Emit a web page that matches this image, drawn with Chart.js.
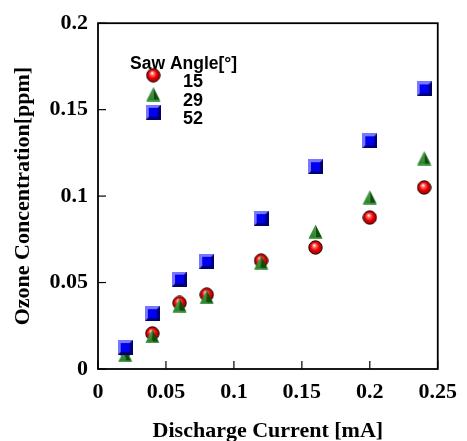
<!DOCTYPE html>
<html>
<head>
<meta charset="utf-8">
<script src="https://cdn.jsdelivr.net/npm/chart.js@4.4.1/dist/chart.umd.min.js"></script>
<style>
  body { margin: 0; background: #fff; }
  #wrap { width: 467px; height: 441px; }
</style>
</head>
<body>
<div id="wrap"><canvas id="ozoneChart" width="467" height="441"></canvas></div>
<script>
// discharge current [mA]
const currents = [0.02, 0.04, 0.06, 0.08, 0.12, 0.16, 0.2, 0.24];
// ozone concentration [ppm] per saw angle
const angle15 = [0.011, 0.0206, 0.0382, 0.043, 0.0627, 0.0703, 0.0876, 0.105];
const angle29 = [0.0082, 0.0191, 0.0369, 0.0417, 0.0617, 0.0795, 0.0994, 0.122];
const angle52 = [0.0124, 0.032, 0.052, 0.0623, 0.087, 0.117, 0.132, 0.162];
const seriesNames = ['15', '29', '52'];

const xTickValues = [0, 0.05, 0.1, 0.15, 0.2, 0.25];
const xTickLabels = ['0', '0.05', '0.1', '0.15', '0.2', '0.25'];
const yTickValues = [0, 0.05, 0.1, 0.15, 0.2];
const yTickLabels = ['0', '0.05', '0.1', '0.15', '0.2'];

const serif = '"Liberation Serif", "Times New Roman", serif';
const sans = '"Liberation Sans", Arial, sans-serif';

function makeCircle() {
    const c = document.createElement('canvas');
    c.width = 15; c.height = 15;
    const g = c.getContext('2d');
    const grad = g.createRadialGradient(6.2, 5.2, 0.3, 7.5, 7.5, 7.2);
    grad.addColorStop(0, '#ffffff');
    grad.addColorStop(0.22, '#ff7070');
    grad.addColorStop(0.55, '#ee0000');
    grad.addColorStop(1, '#8a0000');
    g.beginPath();
    g.arc(7.5, 7.5, 6.7, 0, Math.PI * 2);
    g.fillStyle = grad;
    g.fill();
    g.lineWidth = 1;
    g.strokeStyle = '#2a0000';
    g.stroke();
    return c;
}

function makeTriangle() {
    const c = document.createElement('canvas');
    c.width = 15; c.height = 15;
    const g = c.getContext('2d');
    // left face
    g.beginPath();
    g.moveTo(7.5, 0.5); g.lineTo(0.5, 14.5); g.lineTo(7.5, 14.5); g.closePath();
    const gl = g.createLinearGradient(0, 0, 7.5, 15);
    gl.addColorStop(0, '#5fb05f');
    gl.addColorStop(1, '#1f7a1f');
    g.fillStyle = gl;
    g.fill();
    // right face
    g.beginPath();
    g.moveTo(7.5, 0.5); g.lineTo(14.5, 14.5); g.lineTo(7.5, 14.5); g.closePath();
    g.fillStyle = '#0b4f0b';
    g.fill();
    // bottom strip
    g.fillStyle = '#2f8f2f';
    g.fillRect(1, 13, 13, 1.5);
    return c;
}

function makeSquare() {
    const c = document.createElement('canvas');
    c.width = 15; c.height = 15;
    const g = c.getContext('2d');
    g.fillStyle = '#7878ff';
    g.fillRect(0, 0, 15, 15);
    g.beginPath();
    g.moveTo(15, 0); g.lineTo(15, 15); g.lineTo(0, 15); g.closePath();
    g.fillStyle = '#000070';
    g.fill();
    g.fillStyle = '#0000f0';
    g.fillRect(3, 3, 9, 9);
    return c;
}

const markers = [makeCircle(), makeTriangle(), makeSquare()];

function toPoints(values) {
    return currents.map((x, i) => ({ x: x, y: values[i] }));
}

// inward tick marks and the box around the plot
const frameAndTicks = {
    id: 'frameAndTicks',
    beforeDatasetsDraw(chart) {
        const { ctx, chartArea } = chart;
        const xs = chart.scales.x;
        const ys = chart.scales.y;
        ctx.save();
        ctx.strokeStyle = '#000';
        ctx.lineWidth = 1.2;
        xTickValues.forEach(v => {
            const px = xs.getPixelForValue(v);
            ctx.beginPath();
            ctx.moveTo(px, chartArea.bottom);
            ctx.lineTo(px, chartArea.bottom - 8);
            ctx.stroke();
        });
        yTickValues.forEach(v => {
            const py = ys.getPixelForValue(v);
            ctx.beginPath();
            ctx.moveTo(chartArea.left, py);
            ctx.lineTo(chartArea.left + 8, py);
            ctx.stroke();
        });
        ctx.lineWidth = 1.8;
        ctx.strokeRect(chartArea.left, chartArea.top, chartArea.right - chartArea.left, chartArea.bottom - chartArea.top);
        ctx.restore();
    }
};

// legend in the top-left corner of the plot
const sawLegend = {
    id: 'sawLegend',
    afterDatasetsDraw(chart) {
        const ctx = chart.ctx;
        ctx.save();
        ctx.fillStyle = '#000';
        ctx.textBaseline = 'alphabetic';
        ctx.textAlign = 'left';
        ctx.font = 'bold 17.5px ' + sans;
        ctx.fillText('Saw Angle[°]', 130, 69);
        ctx.font = 'bold 18px ' + sans;
        const rowY = [87.3, 106, 124.3];
        seriesNames.forEach((name, i) => {
            ctx.fillText(name, 183, rowY[i]);
            const m = markers[i];
            ctx.drawImage(m, 153.3 - m.width / 2, rowY[i] - 12 - m.height / 2);
        });
        ctx.restore();
    }
};

const ctx = document.getElementById('ozoneChart').getContext('2d');
const ozoneChart = new Chart(ctx, {
    type: 'scatter',
    data: {
        datasets: [
            { label: seriesNames[0], data: toPoints(angle15), pointStyle: markers[0], order: 3 },
            { label: seriesNames[1], data: toPoints(angle29), pointStyle: markers[1], order: 2 },
            { label: seriesNames[2], data: toPoints(angle52), pointStyle: markers[2], order: 1 },
        ]
    },
    options: {
        responsive: false,
        animation: false,
        layout: { padding: { top: 21, right: 20, left: 0, bottom: 0 } },
        plugins: {
            legend: { display: false },
            tooltip: { enabled: false },
        },
        scales: {
            x: {
                type: 'linear',
                min: 0,
                max: 0.25,
                afterBuildTicks: s => { s.ticks = xTickValues.map(v => ({ value: v })); },
                afterFit: s => { s.height = 72; },
                grid: { display: false, drawTicks: false },
                border: { display: false },
                ticks: {
                    padding: 10,
                    color: '#000',
                    font: { family: serif, size: 22, weight: 'bold' },
                    maxRotation: 0,
                    callback: (v, i) => xTickLabels[i],
                },
                title: {
                    display: true,
                    text: 'Discharge Current [mA]',
                    color: '#000',
                    font: { family: serif, size: 22, weight: 'bold', lineHeight: 1 },
                    padding: { top: 0, bottom: -1.5 },
                },
            },
            y: {
                type: 'linear',
                min: 0,
                max: 0.2,
                afterBuildTicks: s => { s.ticks = yTickValues.map(v => ({ value: v })); },
                afterFit: s => { s.width = 98; },
                grid: { display: false, drawTicks: false },
                border: { display: false },
                ticks: {
                    padding: 10,
                    color: '#000',
                    font: { family: serif, size: 22, weight: 'bold' },
                    callback: (v, i) => yTickLabels[i],
                },
                title: {
                    display: true,
                    text: 'Ozone Concentration[ppm]',
                    color: '#000',
                    font: { family: serif, size: 22, weight: 'bold', lineHeight: 1 },
                    padding: { top: 12, bottom: 0 },
                },
            },
        },
    },
    plugins: [frameAndTicks, sawLegend],
});
</script>
</body>
</html>
